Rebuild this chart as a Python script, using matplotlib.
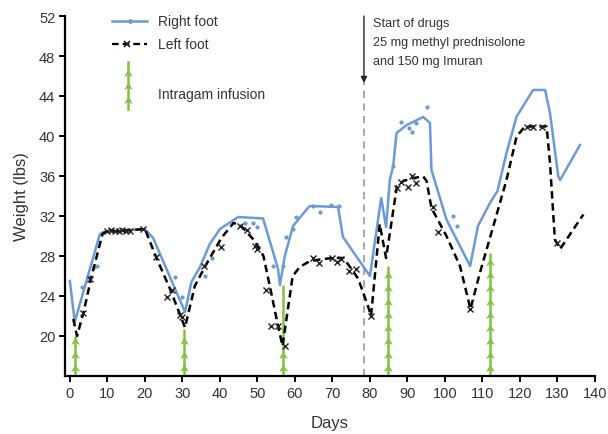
import numpy as np
import matplotlib
matplotlib.use("Agg")
import matplotlib.pyplot as plt
from matplotlib.path import Path

plt.rcParams['font.family'] = ['Liberation Sans', 'DejaVu Sans']

# ---------------- data ----------------
right_line_days = [0, 1.3, 8, 9, 20, 22.2, 30.7, 32.4, 34.7, 37.3, 40, 44.9, 51.5, 52.9, 55.5, 56,
                   57.3, 59.5, 63, 64, 71.5, 72.8, 80, 83, 84.3, 85.3, 86.2, 87.1, 89.8, 94.2,
                   96, 96.4, 100.4, 106.7, 108.8, 112, 114, 116.4, 119.1, 123.5, 126.7, 128,
                   130.2, 130.7, 136]
right_line_vals = [25.5, 21.4, 30.2, 30.4, 30.7, 29.8, 22.4, 25.4, 26.9, 29.2, 30.7, 31.9, 31.75, 30, 26.7, 25.1,
                   28, 31, 32.6, 33, 32.9, 29.9, 26, 33.8, 30.9, 35.6, 37, 40.3, 41.1, 41.9,
                   41.3, 36.6, 31.65, 27, 31, 33.3, 34.5, 38.3, 41.95, 44.6, 44.6, 42.3,
                   36, 35.6, 39.1]

right_pts_days = [3.1, 4.9, 6.5, 7.1, 28, 30, 35.9, 38, 46.7, 48.9, 49.8, 54.2, 56.7, 57.6, 59.5,
                  60.3, 64.7, 66.7, 69.5, 71.8, 86.2, 88.4, 90.5, 91.3, 92.4, 95.3, 102.2, 103.3]
right_pts_vals = [24.9, 25.9, 26.9, 27, 25.9, 23.9, 26, 27.8, 31.3, 31.3, 30.9, 27, 27, 29.9, 30.7,
                  31.9, 33.05, 32.4, 33.1, 33, 37, 41.45, 40.85, 40.45, 41.35, 42.95, 32, 31]

left_line_days = [0.9, 1.9, 3.6, 5.8, 8.7, 9.5, 20, 23.1, 26.7, 30.7, 33.3, 36.4, 40.4, 43.6, 45.3,
                  49.3, 51.6, 53.3, 55.5, 56.7, 59.4, 61.3, 64, 67.6, 70.2, 72.9, 75.1, 76.9, 79.6,
                  80.3, 82.6, 84.3, 87.2, 88.9, 91.6, 94.2, 95.1, 96.4, 100.4, 104, 106.8, 109.3,
                  112.9, 116.4, 119.1, 121.3, 127.1, 128, 129.3, 130.7, 136.9]
left_line_vals = [21.7, 20, 22.3, 26, 30.2, 30.4, 30.7, 27.8, 24.7, 20.85, 25, 27.2, 29.8, 31.3, 31.15,
                  29.5, 28, 25, 21, 19, 26, 26.9, 27.5, 27.7, 27.8, 27.8, 26.7, 25.7, 22.85,
                  22, 31.2, 27.8, 35, 35.5, 35.8, 35.95, 35.5, 32.8, 30, 27, 22.7, 26.3,
                  31, 35.6, 39.95, 40.95, 40.95, 37.3, 29.65, 28.7, 32.15]

left_pts_days = [3.6, 5.3, 10, 11, 12, 13, 14, 15, 16, 19.5, 22.9, 25.8, 27.1, 29.3, 30, 35.7, 40.4,
                 45.3, 47.1, 49.3, 49.9, 52.4, 53.6, 55.4, 57.3, 64.9, 66.5, 69.8, 71.1, 72.4,
                 74.5, 76.4, 80.4, 87.1, 88.4, 90.2, 91.3, 92.3, 96.9, 98.2, 106.8, 121.8, 123.5,
                 125.8, 129.8]
left_pts_vals = [22.3, 25.7, 30.5, 30.6, 30.5, 30.5, 30.6, 30.5, 30.5, 30.7, 27.9, 23.9, 24.6, 22.1,
                 21.9, 27, 28.95, 31.05, 30.65, 29, 28.7, 24.6, 21, 21, 19, 27.8, 27.3, 27.8, 27.4,
                 27.7, 26.5, 26.7, 22, 34.8, 35.4, 34.9, 36, 35.3, 32.9, 30.4, 22.7, 40.9, 40.9,
                 40.9, 29.3]

infusion_days = [1.3, 30.3, 56.7, 84.8, 112]
infusion_tops = [20, 20.7, 25.1, 27.0, 28.3]
infusion_counts = [3, 3, 2, 8, 9]

drug_start_day = 78.4
drug_text = ["Start of drugs", "25 mg methyl prednisolone", "and 150 mg Imuran"]

x_ticks = list(range(0, 141, 10))
y_ticks = list(range(20, 53, 4))

# ---------------- style ----------------
BLUE = '#6b9bd6'
GREEN = '#84c341'
TXT = '#333333'

# chevron-like arrowhead marker
arrow_marker = Path([(0, 1), (-0.9, -0.5), (0, -0.1), (0.9, -0.5), (0, 1)],
                    [Path.MOVETO, Path.LINETO, Path.LINETO, Path.LINETO, Path.CLOSEPOLY])

fig = plt.figure(figsize=(6.08, 4.35), dpi=100)
ax = fig.add_axes([65 / 608, 58 / 435, 530 / 608, 360 / 435])
ax.set_xlim(-1.3, 140)
ax.set_ylim(16, 52)

# infusion markers
for d, top, n in zip(infusion_days, infusion_tops, infusion_counts):
    ax.plot([d, d], [16, top], color=GREEN, lw=1.8, zorder=2, solid_capstyle='butt')
    ys = 16.7 + 1.33 * np.arange(n)
    ax.plot([d] * n, ys, linestyle='none', marker=arrow_marker, markersize=7,
            color=GREEN, markeredgewidth=0, zorder=2)

# drug start
ax.plot([drug_start_day, drug_start_day], [16, 45.6], color='#a0a0a0', lw=1.3,
        linestyle=(0, (4, 3)), zorder=1)
ax.annotate('', xy=(drug_start_day, 45.3), xytext=(drug_start_day, 52),
            arrowprops=dict(arrowstyle='-|>', color='#222222', lw=1.0,
                            mutation_scale=9, shrinkA=0, shrinkB=0),
            annotation_clip=False)
for i, t in enumerate(drug_text):
    ax.text(80.7, 51.3 - 1.9 * i, t, fontsize=9.1, color=TXT, va='center', ha='left')

# curves
ax.plot(right_line_days, right_line_vals, color=BLUE, lw=1.8, zorder=4,
        solid_joinstyle='round')
ax.plot(right_pts_days, right_pts_vals, linestyle='none', marker='o', markersize=3,
        color=BLUE, markeredgewidth=0, zorder=4)
ax.plot(left_line_days, left_line_vals, color='black', lw=1.8, linestyle=(0, (3, 1.8)), zorder=5)
ax.plot(left_pts_days, left_pts_vals, linestyle='none', marker='x', markersize=4.5,
        color='#222222', markeredgewidth=1.0, zorder=5)

# legend (manual)
T = ax.transAxes
ax.plot([0.0887, 0.155], [0.986, 0.986], color=BLUE, lw=1.8, transform=T, clip_on=False)
ax.plot([0.123], [0.986], marker='o', markersize=3.5, color=BLUE, markeredgewidth=0,
        transform=T, clip_on=False)
ax.text(0.175, 0.986, 'Right foot', transform=T, fontsize=10, color=TXT, va='center')
ax.plot([0.0887, 0.155], [0.922, 0.922], color='black', lw=1.6, linestyle=(0, (3, 1.8)),
        transform=T, clip_on=False)
ax.plot([0.117], [0.922], marker='x', markersize=4.5, color='#222222', markeredgewidth=1.2,
        transform=T, clip_on=False)
ax.text(0.175, 0.922, 'Left foot', transform=T, fontsize=10, color=TXT, va='center')
ax.plot([0.119, 0.119], [0.742, 0.872], color=GREEN, lw=1.8, transform=T, clip_on=False)
ax.plot([0.119] * 3, [0.764, 0.803, 0.839], linestyle='none', marker=arrow_marker,
        markersize=7, color=GREEN, markeredgewidth=0, transform=T, clip_on=False)
ax.text(0.175, 0.783, 'Intragam infusion', transform=T, fontsize=10, color=TXT, va='center')

# axes styling
for s in ['top', 'right']:
    ax.spines[s].set_visible(False)
for s in ['left', 'bottom']:
    ax.spines[s].set_linewidth(1.6)
ax.spines['left'].set_bounds(16, 52)
ax.spines['bottom'].set_bounds(-1.3, 140)
ax.set_xticks(x_ticks)
ax.set_yticks(y_ticks)
ax.tick_params(axis='both', direction='out', length=4, width=1.4, labelsize=10.5,
               labelcolor=TXT, pad=3)
ax.set_xlabel('Days', fontsize=12, color=TXT, labelpad=11)
ax.set_ylabel('Weight (lbs)', fontsize=12, color=TXT, labelpad=7)

fig.savefig('out.png', dpi=100)
